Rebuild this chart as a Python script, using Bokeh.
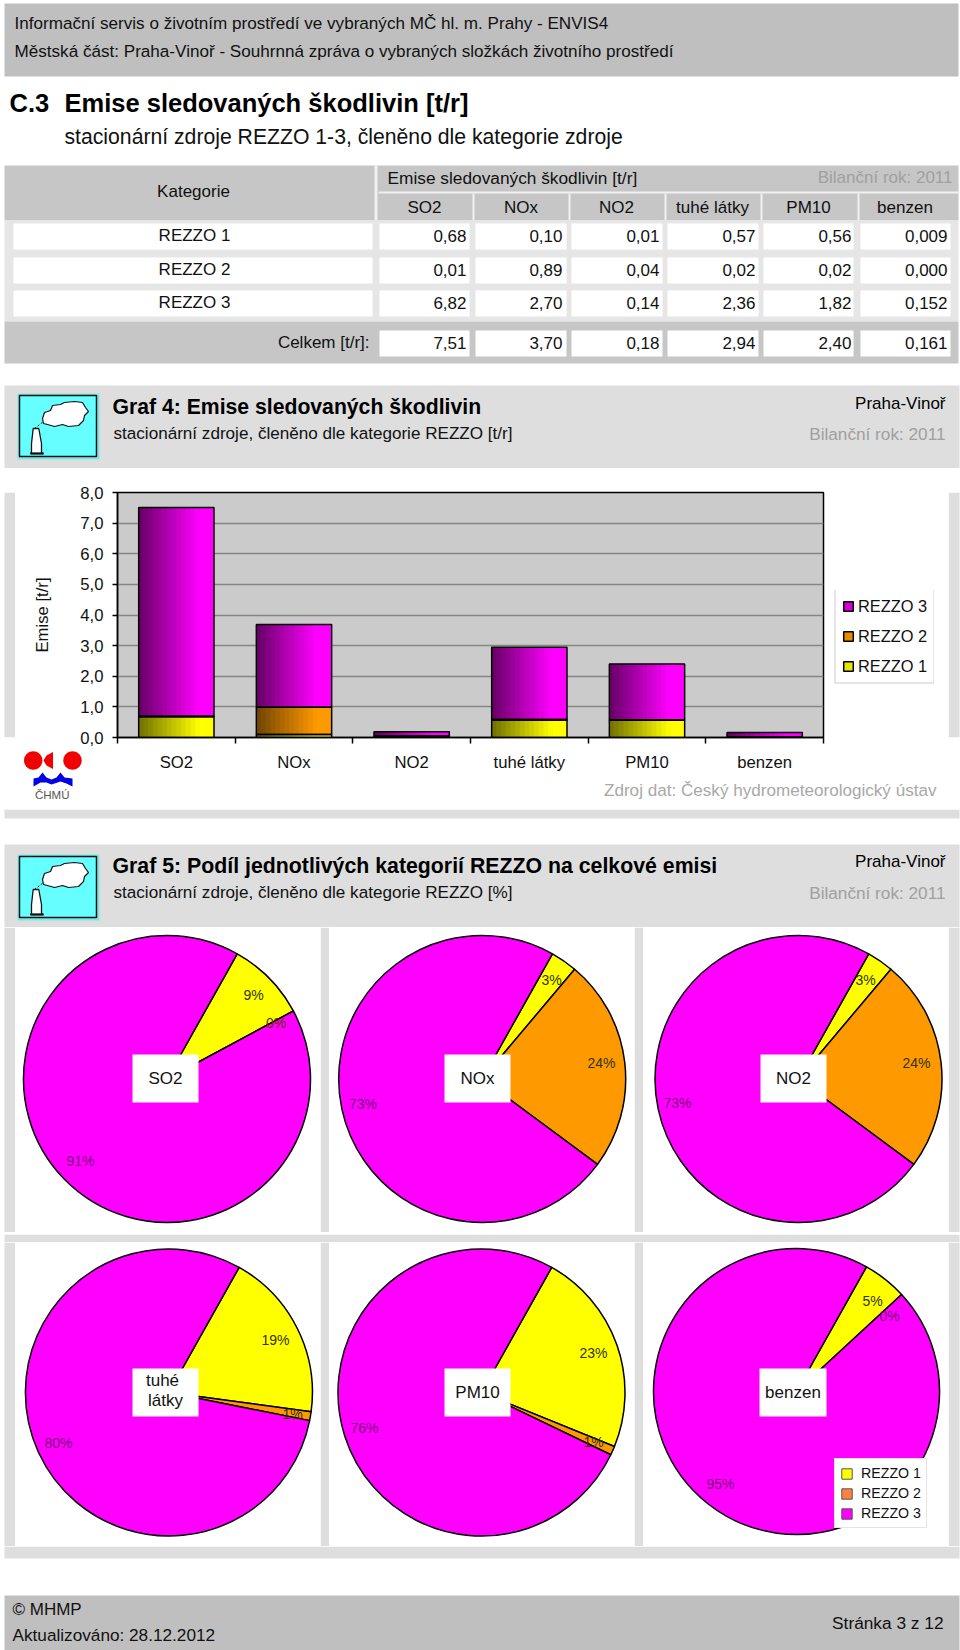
from bokeh.plotting import figure
from bokeh.layouts import column, row
from bokeh.models import Range1d, FixedTicker, Legend, LegendItem
from bokeh.core.properties import value
from bokeh.embed import file_html
from bokeh.resources import INLINE
import math

# ---------- data ----------
categories = ["SO2", "NOx", "NO2", "tuhé látky", "PM10", "benzen"]
rezzo1 = [0.68, 0.10, 0.01, 0.57, 0.56, 0.009]
rezzo2 = [0.01, 0.89, 0.04, 0.02, 0.02, 0.000]
rezzo3 = [6.82, 2.70, 0.14, 2.36, 1.82, 0.152]
totals = [7.51, 3.70, 0.18, 2.94, 2.40, 0.161]
row_names = ["REZZO 1", "REZZO 2", "REZZO 3"]
tbl_rezzo1 = ["0,68", "0,10", "0,01", "0,57", "0,56", "0,009"]
tbl_rezzo2 = ["0,01", "0,89", "0,04", "0,02", "0,02", "0,000"]
tbl_rezzo3 = ["6,82", "2,70", "0,14", "2,36", "1,82", "0,152"]
tbl_totals = ["7,51", "3,70", "0,18", "2,94", "2,40", "0,161"]
y_ticks = [0, 1, 2, 3, 4, 5, 6, 7, 8]
y_labels = ["0,0", "1,0", "2,0", "3,0", "4,0", "5,0", "6,0", "7,0", "8,0"]
pie_so2 = [9, 0, 91]
pie_nox = [3, 24, 73]
pie_no2 = [3, 24, 73]
pie_tuhe = [19, 1, 80]
pie_pm10 = [23, 1, 76]
pie_benzen = [5, 0, 95]

FONT = value("Liberation Sans")
GRAY_H = "#bfbfbf"
GRAY_L = "#dedede"
GRAY_M = "#c6c6c6"
PIE_COL = ["#ffff00", "#ff9900", "#ff00ff"]


def page_fig(x0, y0, x1, y1, bg=GRAY_L):
    p = figure(width=x1 - x0, height=y1 - y0, x_range=Range1d(x0, x1), y_range=Range1d(y1, y0),
               output_backend="svg", toolbar_location=None, min_border=0, tools="")
    p.axis.visible = False
    p.grid.visible = False
    p.outline_line_color = None
    p.background_fill_color = bg
    p.border_fill_color = bg
    return p


def overlay_fig(x0, y0, x1, y1):
    p = page_fig(x0, y0, x1, y1, "white")
    p.styles = {"position": "absolute", "left": f"{x0}px", "top": f"{y0}px", "z-index": "10"}
    return p


def box(p, x0, y0, x1, y1, color):
    p.quad(left=[x0], right=[x1], top=[y0], bottom=[y1], fill_color=color, line_color=None)


def txt(p, x, y, s, size=17, color="#111111", align="left", style="normal"):
    p.text(x=[x], y=[y - 1], text=[s], text_font=FONT, text_font_size=f"{size}px", text_color=color,
           text_align=align, text_baseline="middle", text_font_style=style)


def icon(p, ox, oy):
    sx = lambda v: ox + v - 17
    sy = lambda v: oy + v - 393
    p.quad(left=[ox], right=[ox + 82], top=[oy], bottom=[oy + 66], fill_color="#80e6e6", line_color=None)
    p.quad(left=[ox + 2], right=[ox + 79], top=[oy + 2], bottom=[oy + 63], fill_color="#66ffff",
           line_color="#111111", line_width=1.5)
    cloud_x = [42, 44, 50, 52, 60, 64, 74, 82, 85, 88, 84, 83, 78, 68, 62, 54, 47, 43]
    cloud_y = [418, 412, 410, 405, 404, 402, 401, 402, 407, 411, 415, 420, 425, 426, 424, 426, 424, 423]
    p.patch([sx(v) for v in cloud_x], [sy(v) for v in cloud_y], fill_color="white",
            line_color="#111111", line_width=1.2)
    p.line([sx(34), sx(43)], [sy(428), sy(421)], line_color="#111111", line_width=1, line_dash="2 2")
    ch_x = [32.7, 38.3, 41, 41, 43, 30, 31, 31]
    ch_y = [428, 428, 443, 452, 453, 453, 452, 443]
    p.patch([sx(v) for v in ch_x], [sy(v) for v in ch_y], fill_color="white", line_color="#111111", line_width=1.3)
    p.line([sx(30), sx(43)], [sy(453), sy(453)], line_color="#111111", line_width=2)


# ---------- top: header, table, Graf 4 header ----------
top = page_fig(0, 0, 960, 468, "white")
box(top, 4, 3, 958, 76, GRAY_H)
txt(top, 14, 24, "Informační servis o životním prostředí ve vybraných MČ hl. m. Prahy - ENVIS4", 17.1)
txt(top, 14, 52, "Městská část: Praha-Vinoř - Souhrnná zpráva o vybraných složkách životního prostředí", 17.1)
txt(top, 9, 103, "C.3", 25.5, "black", style="bold")
txt(top, 64, 103, "Emise sledovaných škodlivin [t/r]", 25.5, "black", style="bold")
txt(top, 64, 137, "stacionární zdroje REZZO 1-3, členěno dle kategorie zdroje", 21.2)

box(top, 4, 165, 958, 220, GRAY_M)
box(top, 374, 165, 377, 220, "#f0f0f0")
box(top, 378, 191, 958, 193, "#f0f0f0")
txt(top, 193, 192, "Kategorie", 17, align="center")
txt(top, 387, 178, "Emise sledovaných škodlivin [t/r]", 17.3)
txt(top, 952, 178, "Bilanční rok: 2011", 17, "#a0a0a0", "right")
col_left = [379, 475, 571, 667, 763, 860]
col_right = [469, 566, 662, 758, 853, 950]
col_center = [424, 520.5, 616, 712, 808, 904.5]
col_text_r = [466, 562, 659, 755, 851, 947]
for xl in col_left[1:]:
    box(top, xl - 3, 193, xl - 1, 220, "#f0f0f0")
for c, s in zip(col_center, categories):
    txt(top, c, 208, s, 17, align="center")

box(top, 4, 220, 958, 321, "#e6e6e6")
box(top, 4, 321, 958, 363, GRAY_M)
row_y = [(223, 249), (257, 283), (290, 316)]
for (y0, y1), name, vals in zip(row_y, row_names, [tbl_rezzo1, tbl_rezzo2, tbl_rezzo3]):
    box(top, 13, y0, 372, y1, "white")
    txt(top, 194, (y0 + y1) / 2, name, 17, align="center")
    for xl, xr, xt, v in zip(col_left, col_right, col_text_r, vals):
        box(top, xl, y0, xr, y1, "white")
        txt(top, xt, (y0 + y1) / 2, v, 17, align="right")
txt(top, 369, 343, "Celkem [t/r]:", 17, align="right")
for xl, xr, xt, v in zip(col_left, col_right, col_text_r, tbl_totals):
    box(top, xl, 330, xr, 356, "white")
    txt(top, xt, 343, v, 17, align="right")

box(top, 4, 385, 959, 468, GRAY_L)
icon(top, 17, 393)
txt(top, 112, 407, "Graf 4: Emise sledovaných škodlivin", 21.2, "black", style="bold")
txt(top, 113, 434, "stacionární zdroje, členěno dle kategorie REZZO [t/r]", 17.1)
txt(top, 945, 404, "Praha-Vinoř", 17, "black", "right")
txt(top, 945, 434, "Bilanční rok: 2011", 17.2, "#a0a0a0", "right")

# ---------- bar chart ----------
chart = figure(width=933, height=341, x_range=Range1d(0, 6), y_range=Range1d(0, 8),
               output_backend="svg", toolbar_location=None, tools="",
               min_border_left=102, min_border_right=125, min_border_top=24, min_border_bottom=72)
chart.background_fill_color = "#cbcbcb"
chart.border_fill_color = "white"
chart.outline_line_color = "black"
chart.outline_line_width = 1.5
chart.xgrid.visible = False
chart.ygrid.ticker = FixedTicker(ticks=y_ticks)
chart.ygrid.grid_line_color = "#858585"
chart.ygrid.grid_line_width = 1.5

ya = chart.yaxis[0]
ya.ticker = FixedTicker(ticks=y_ticks)
ya.major_label_overrides = dict(zip(y_ticks, y_labels))
ya.major_label_text_font = "Liberation Sans"
ya.major_label_text_font_size = "16.7px"
ya.major_label_text_color = "#111111"
ya.major_label_standoff = 9
ya.major_tick_out = 5
ya.major_tick_in = 0
ya.minor_tick_out = 0
ya.minor_tick_in = 0
ya.axis_line_color = "black"
ya.axis_line_width = 1.5
ya.major_tick_line_width = 1.5
ya.axis_label = "Emise [t/r]"
ya.axis_label_text_font = "Liberation Sans"
ya.axis_label_text_font_size = "16.7px"
ya.axis_label_text_font_style = "normal"
ya.axis_label_text_color = "#111111"
ya.axis_label_standoff = 25

xa = chart.xaxis[0]
centers = [i + 0.5 for i in range(len(categories))]
edges = list(range(len(categories) + 1))
xa.ticker = FixedTicker(ticks=centers, minor_ticks=edges)
xa.major_label_overrides = dict(zip(centers, categories))
xa.major_label_text_font = "Liberation Sans"
xa.major_label_text_font_size = "16.7px"
xa.major_label_text_color = "#111111"
xa.major_label_standoff = 9
xa.major_tick_out = 0
xa.major_tick_in = 0
xa.minor_tick_out = 6
xa.minor_tick_in = 0
xa.minor_tick_line_color = "black"
xa.minor_tick_line_width = 1.5
xa.axis_line_color = "black"
xa.axis_line_width = 1.5


def mix(dark, bright, t):
    t = min(1.0, t)
    return "#%02x%02x%02x" % tuple(int(d + (b - d) * t) for d, b in zip(dark, bright))


BAR_W = 0.64
STRIPS = 16
series = [
    ("REZZO 1", rezzo1, (0x70, 0x70, 0x00), (0xff, 0xff, 0x00), "#e6e600"),
    ("REZZO 2", rezzo2, (0x70, 0x45, 0x00), (0xff, 0x99, 0x00), "#e68a00"),
    ("REZZO 3", rezzo3, (0x66, 0x00, 0x66), (0xff, 0x00, 0xff), "#d400d4"),
]
base = [0.0] * len(categories)
outline = []
swatches = {}
for name, vals, dark, bright, swatch in series:
    tops = [b + v for b, v in zip(base, vals)]
    swatches[name] = swatch
    for s in range(STRIPS):
        w = BAR_W / STRIPS
        # each strip reaches to the bar's right edge, so no seams show between strips
        left = [c - BAR_W / 2 + w * s for c in centers]
        col = mix(dark, bright, (s + 0.5) / STRIPS / 0.8)
        chart.quad(left=left, right=[c + BAR_W / 2 for c in centers], bottom=base, top=tops,
                   fill_color=col, line_color=None)
    outline.append((list(base), tops))
    base = tops
for b, t in outline:
    chart.vbar(x=centers, width=BAR_W, bottom=b, top=t, fill_color=None, line_color="black", line_width=1.5)

# chart legend, ČHMÚ logo and source note lie outside the plot frame: small figures on top of the chart
leg_fig = overlay_fig(834, 590, 934, 684)
leg_r = {n: leg_fig.vbar(x=[float("nan")], width=1, bottom=[0], top=[0], fill_color=swatches[n],
                         line_color="black", line_width=1.5) for n in swatches}
leg_fig.add_layout(Legend(items=[LegendItem(label=n, renderers=[leg_r[n]]) for n in ["REZZO 3", "REZZO 2", "REZZO 1"]],
                          location=(0, 0), margin=0, padding=6, spacing=10, glyph_width=12, glyph_height=12,
                          label_standoff=4, label_height=20, label_text_font="Liberation Sans",
                          label_text_font_size="16.4px", label_text_color="#111111",
                          border_line_color="#cccccc", border_line_width=2, background_fill_color="white",
                          background_fill_alpha=1))

src_fig = overlay_fig(595, 778, 945, 804)
txt(src_fig, 936, 791, "Zdroj dat: Český hydrometeorologický ústav", 17.1, "#a8a8a8", "right")

logo = overlay_fig(20, 748, 85, 804)


def disc(cx, cy, r, n=36):
    return ([cx + r * math.cos(2 * math.pi * i / n) for i in range(n + 1)],
            [cy + r * math.sin(2 * math.pi * i / n) for i in range(n + 1)])


def poly(xs, ys, color):
    logo.patch(list(xs), list(ys), fill_color=color, line_color=None)


poly(*disc(32.7, 760, 9.2), "#f00000")
poly(*disc(72, 760, 9.2), "#f00000")
poly([43, 46, 52.5, 52.5, 46], [760, 755, 751.5, 768.5, 765], "#f00000")
poly([33, 38, 42, 46, 51, 56, 60, 64, 72, 72, 66, 60, 54, 51, 46, 40, 33],
     [778, 777, 772, 777, 779, 777, 772, 777, 778, 786, 783, 781, 783, 784, 782, 782, 786], "#0000e6")
txt(logo, 51.7, 795, "ČHMÚ", 11.5, "#555555", "center")


def gap(x0, x1, h):
    p = page_fig(x0, 0, x1, h, "white")
    box(p, max(x0, 4), 0, min(x1, 959), h, GRAY_L)
    return p


chart_row = row(gap(0, 15, 341), chart, gap(948, 960, 341), spacing=0)

# ---------- Graf 5 header ----------
mid = page_fig(0, 809, 960, 927, "white")
box(mid, 4, 809, 959, 818, GRAY_L)
box(mid, 4, 844, 959, 927, GRAY_L)
icon(mid, 17, 854)
txt(mid, 112, 866, "Graf 5: Podíl jednotlivých kategorií REZZO na celkové emisi", 21.3, "black", style="bold")
txt(mid, 113, 893, "stacionární zdroje, členěno dle kategorie REZZO [%]", 17.1)
txt(mid, 945, 862, "Praha-Vinoř", 17, "black", "right")
txt(mid, 945, 893, "Bilanční rok: 2011", 17.2, "#a0a0a0", "right")


# ---------- pies ----------
def pie(x0, y0, x1, y1, cx, cy, r, vals, title, labels, bx0, bx1, by0, by1, start=29.3):
    p = figure(width=x1 - x0, height=y1 - y0, x_range=Range1d(x0, x1), y_range=Range1d(-y1, -y0),
               output_backend="svg", toolbar_location=None, tools="", min_border=0)
    p.axis.visible = False
    p.grid.visible = False
    p.outline_line_color = None
    p.background_fill_color = "white"
    p.border_fill_color = "white"
    theta = start
    for i, v in enumerate(vals):
        th1 = theta + v * 3.6
        if v > 0:
            p.wedge(x=[cx], y=[-cy], radius=r, start_angle=math.radians(90 - th1),
                    end_angle=math.radians(90 - theta), fill_color=PIE_COL[i], line_color="black", line_width=1.5)
        theta = th1
    p.quad(left=[bx0], right=[bx1], top=[-by0], bottom=[-by1], fill_color="white", line_color=None)
    lines = title.split(" ")
    my = (by0 + by1) / 2
    if len(lines) == 2:
        p.text(x=[(bx0 + bx1) / 2 - 3, (bx0 + bx1) / 2], y=[-my + 12, -my - 8], text=lines, text_font=FONT,
               text_font_size="17px", text_color="#111111", text_align="center", text_baseline="middle")
    else:
        p.text(x=[(bx0 + bx1) / 2], y=[-my], text=[title], text_font=FONT, text_font_size="17px",
               text_color="#111111", text_align="center", text_baseline="middle")
    for (lx, ly, s, col) in labels:
        p.text(x=[lx], y=[-ly], text=[s], text_font=FONT, text_font_size="14px", text_color=col,
               text_align="center", text_baseline="middle")
    return p


DK = "#333300"
PU = "#7d007d"
p1 = pie(15, 927, 320, 1232, 166.5, 1078.5, 143.5, pie_so2, "SO2",
         [(253, 994, "9%", DK), (275.5, 1022, "0%", "#663300"), (80, 1160, "91%", PU)], 132, 198, 1054, 1102)
p2 = pie(329, 927, 634, 1232, 481.7, 1078.5, 143.5, pie_nox, "NOx",
         [(551, 979, "3%", DK), (601, 1062, "24%", DK), (362.5, 1103, "73%", PU)], 444, 510, 1054, 1102)
p3 = pie(643, 927, 948, 1232, 798, 1078.5, 143.5, pie_no2, "NO2",
         [(865, 979, "3%", DK), (916, 1062, "24%", DK), (677, 1102, "73%", PU)], 760, 826, 1054, 1102)
p4 = pie(15, 1242, 320, 1546, 168.4, 1392, 143.5, pie_tuhe, "tuhé látky",
         [(275, 1339, "19%", DK), (292, 1413, "1%", DK), (58, 1442, "80%", PU)], 132, 198, 1368, 1416)
p5 = pie(329, 1242, 634, 1546, 481, 1392, 143.5, pie_pm10, "PM10",
         [(593, 1352, "23%", DK), (593, 1441, "1%", DK), (364, 1427, "76%", PU)], 444, 510, 1368, 1416)
p6 = pie(643, 1242, 948, 1546, 796, 1391, 143, pie_benzen, "benzen",
         [(872, 1300, "5%", DK), (889, 1315, "0%", PU), (720, 1483, "95%", PU)], 759, 826, 1368, 1416)

# pie legend: swatches carry their own colours
swatch_cols = ["#ffff00", "#ff8040", "#ff00ff"]
sw = [p6.vbar(x=[float("nan")], width=1, bottom=[0], top=[0], fill_color=c, line_color="#555555") for c in swatch_cols]
p6.add_layout(Legend(items=[LegendItem(label=n, renderers=[r]) for n, r in zip(row_names, sw)],
                     location=(191, 18), margin=0, padding=5, spacing=2, glyph_width=13, glyph_height=13,
                     label_standoff=8, label_height=18, label_text_font="Liberation Sans",
                     label_text_font_size="14.2px", label_text_color="#111111",
                     border_line_color="#cccccc", border_line_width=1, background_fill_color="white",
                     background_fill_alpha=1))

row1 = row(gap(0, 15, 305), p1, gap(320, 329, 305), p2, gap(634, 643, 305), p3, gap(948, 960, 305), spacing=0)
sep = gap(0, 960, 10)
row2 = row(gap(0, 15, 304), p4, gap(320, 329, 304), p5, gap(634, 643, 304), p6, gap(948, 960, 304), spacing=0)

# ---------- footer ----------
foot = page_fig(0, 1546, 960, 1650, "white")
box(foot, 4, 1546, 959, 1558, GRAY_L)
box(foot, 4, 1595, 959, 1650, GRAY_H)
txt(foot, 12, 1610, "© MHMP", 17)
txt(foot, 12, 1635, "Aktualizováno: 28.12.2012", 17.2)
txt(foot, 943, 1623, "Stránka 3 z 12", 17.3, align="right")

page = column(top, chart_row, mid, row1, sep, row2, foot, leg_fig, src_fig, logo, spacing=0)
open("out.html", "w").write(file_html(page, INLINE))
